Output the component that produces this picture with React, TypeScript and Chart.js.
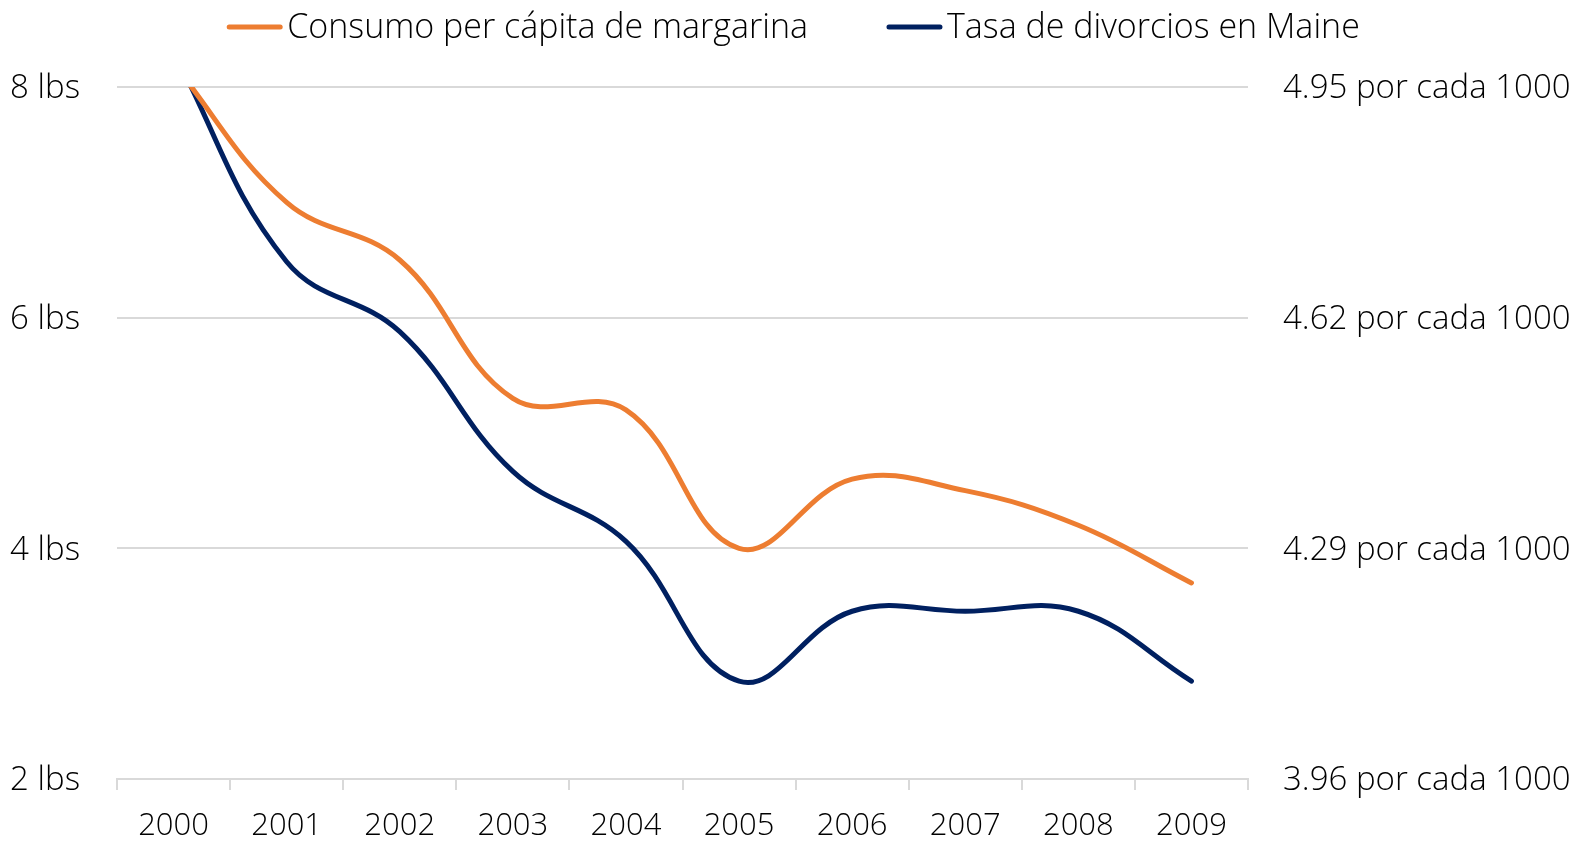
import React, { useEffect, useRef } from "react";
import { Chart, registerables } from "chart.js";

Chart.register(...registerables);

const FONT = "'Open Sans', Lato, sans-serif";
const WEIGHT = 300;

const years = ["2000", "2001", "2002", "2003", "2004", "2005", "2006", "2007", "2008", "2009"];
const margarine = [8.2, 7.0, 6.5, 5.3, 5.2, 4.0, 4.6, 4.5, 4.2, 3.7];
const divorce = [5.0, 4.7, 4.6, 4.4, 4.3, 4.1, 4.2, 4.2, 4.2, 4.1];
const leftTicks = [2, 4, 6, 8];
const rightTicks = [3.96, 4.29, 4.62, 4.95];
const seriesLabels = ["Consumo per cápita de margarina", "Tasa de divorcios en Maine"];
const seriesColors = ["#ED7D31", "#002060"];

const legendPlugin = {
  id: "lineLegend",
  afterDraw(chart: any) {
    const ctx = chart.ctx;
    ctx.save();
    ctx.font = `${WEIGHT} 34px ${FONT}`;
    const lineLen = 55;
    const gap = 5;
    const itemGap = 79;
    const items = chart.data.datasets.map((ds: any) => ({
      label: ds.label,
      color: ds.borderColor,
      w: ctx.measureText(ds.label).width,
    }));
    const total =
      items.reduce((s: number, it: any) => s + lineLen + gap + it.w, 0) + itemGap * (items.length - 1);
    let x = chart.width / 2 - total / 2;
    const y = 27;
    for (const it of items) {
      ctx.strokeStyle = it.color;
      ctx.lineWidth = 5;
      ctx.lineCap = "round";
      ctx.beginPath();
      ctx.moveTo(x + 2, y);
      ctx.lineTo(x + lineLen - 2, y);
      ctx.stroke();
      x += lineLen + gap;
      ctx.fillStyle = "#000";
      ctx.textBaseline = "middle";
      ctx.textAlign = "left";
      ctx.fillText(it.label, x, y + 1);
      x += it.w + itemGap;
    }
    ctx.restore();
  },
};

export default function App() {
  const ref = useRef<HTMLCanvasElement | null>(null);

  useEffect(() => {
    document.body.style.margin = "0";
    const canvas = ref.current;
    if (!canvas) return;
    const yFont = { family: FONT, size: 33, weight: WEIGHT };
    const xFont = { family: FONT, size: 31, weight: WEIGHT };
    const chart = new Chart(canvas, {
      type: "line",
      data: {
        labels: years,
        datasets: [
          {
            label: seriesLabels[0],
            data: margarine,
            borderColor: seriesColors[0],
            backgroundColor: seriesColors[0],
            borderWidth: 5,
            pointRadius: 0,
            tension: 0.4,
            yAxisID: "y",
            clip: 0,
          },
          {
            label: seriesLabels[1],
            data: divorce,
            borderColor: seriesColors[1],
            backgroundColor: seriesColors[1],
            borderWidth: 5,
            pointRadius: 0,
            tension: 0.4,
            yAxisID: "y1",
            clip: 0,
          },
        ],
      },
      options: {
        responsive: false,
        animation: false,
        layout: { padding: { top: 87, left: 0, right: 0, bottom: 0 } },
        elements: { line: { capBezierPoints: false, borderCapStyle: "round" } },
        plugins: {
          legend: { display: false },
          tooltip: { enabled: false },
        },
        scales: {
          x: {
            type: "category",
            offset: true,
            grid: {
              offset: true,
              drawOnChartArea: false,
              drawTicks: true,
              tickLength: 11,
              color: "#D9D9D9",
              lineWidth: 2,
            },
            border: { display: true, color: "#D9D9D9", width: 2 },
            ticks: { font: xFont, color: "#000", padding: 18, maxRotation: 0, autoSkip: false },
            afterFit: (s: any) => {
              s.height = 62;
            },
          },
          y: {
            type: "linear",
            position: "left",
            min: 2,
            max: 8,
            afterBuildTicks: (s: any) => {
              s.ticks = leftTicks.map((v) => ({ value: v }));
            },
            ticks: {
              font: yFont,
              color: "#000",
              padding: 37,
              labelOffset: 2,
              callback: (v: any) => `${v} lbs`,
            },
            grid: { color: "#D9D9D9", lineWidth: 2, drawTicks: false },
            border: { display: false },
            afterFit: (s: any) => {
              s.width = 117;
            },
          },
          y1: {
            type: "linear",
            position: "right",
            min: 3.96,
            max: 4.95,
            afterBuildTicks: (s: any) => {
              s.ticks = rightTicks.map((v) => ({ value: v }));
            },
            ticks: {
              font: yFont,
              color: "#000",
              padding: 35,
              labelOffset: 2,
              callback: (v: any) => `${Number(v).toFixed(2)} por cada 1000`,
            },
            grid: { display: false, drawTicks: false },
            border: { display: false },
            afterFit: (s: any) => {
              s.width = 339;
            },
          },
        },
      },
      plugins: [legendPlugin],
    });
    return () => chart.destroy();
  }, []);

  return <canvas ref={ref} width={1587} height={841} style={{ display: "block" }} />;
}
